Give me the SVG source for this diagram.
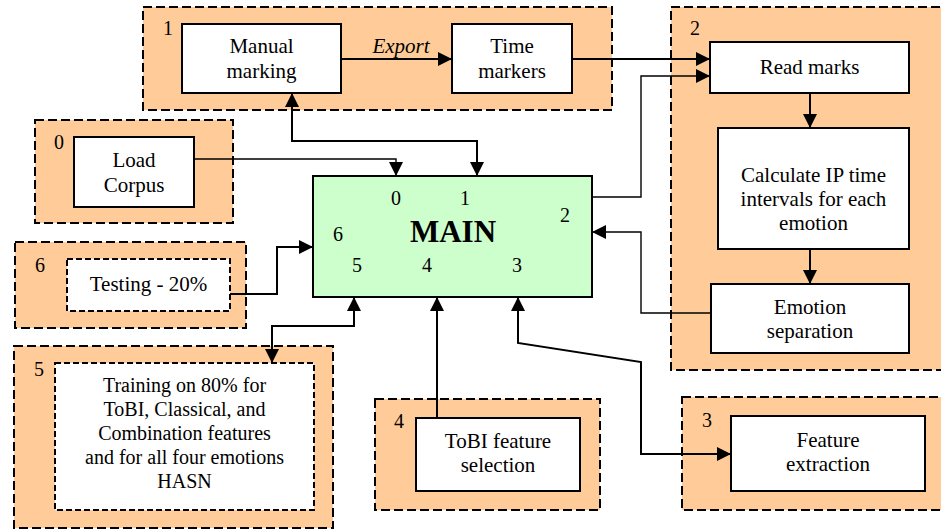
<svg xmlns="http://www.w3.org/2000/svg" width="941" height="529" viewBox="0 0 941 529" font-family="'Liberation Serif', 'Times New Roman', serif">
  <style>
    text { font-size: 21px; fill: #000; }
    .c { text-anchor: middle; }
    .num { font-size: 20px; }
    .small { font-size: 20px; }
    .grp { fill: #FFCC99; stroke: #000; stroke-width: 2; stroke-dasharray: 9 4; }
    .box { fill: #fff; stroke: #000; stroke-width: 2; }
    .dbox { fill: #fff; stroke: #000; stroke-width: 2; stroke-dasharray: 6 3; }
    .main { fill: #CCFFCC; stroke: #000; stroke-width: 2; }
    .thick { fill: none; stroke: #000; stroke-width: 2; }
    .thin { fill: none; stroke: #000; stroke-width: 1.4; }
    .ah { marker-end: url(#arrow); }
    .both { marker-start: url(#arrow); marker-end: url(#arrow); }
  </style>
  <defs>
    <marker id="arrow" markerUnits="userSpaceOnUse" markerWidth="14" markerHeight="14" refX="14" refY="7" orient="auto-start-reverse">
      <path d="M0,0 L14,7 L0,14 z" fill="#000"/>
    </marker>
  </defs>

  <!-- group 1: manual marking and export -->
  <g id="group1">
    <rect class="grp" x="143" y="7" width="469" height="103"/>
    <text class="num" x="163" y="35">1</text>
  </g>
  <!-- group 2: read marks, IP intervals, emotion separation -->
  <g id="group2">
    <rect class="grp" x="671" y="7" width="300" height="363"/>
    <text class="num" x="690" y="35">2</text>
  </g>
  <!-- group 0: corpus loading -->
  <g id="group0">
    <rect class="grp" x="35" y="120" width="198" height="103"/>
    <text class="num" x="54" y="149">0</text>
  </g>
  <!-- group 6: testing -->
  <g id="group6">
    <rect class="grp" x="15" y="242" width="231" height="86"/>
    <text class="num" x="35" y="272">6</text>
  </g>
  <!-- group 5: training -->
  <g id="group5">
    <rect class="grp" x="14" y="346" width="319" height="182"/>
    <text class="num" x="34" y="376">5</text>
  </g>
  <!-- group 4: ToBI feature selection -->
  <g id="group4">
    <rect class="grp" x="375" y="399" width="225" height="111"/>
    <text class="num" x="394" y="428">4</text>
  </g>
  <!-- group 3: feature extraction -->
  <g id="group3">
    <rect class="grp" x="682" y="397" width="300" height="113"/>
    <text class="num" x="702" y="427">3</text>
  </g>

  <g id="manual-marking">
    <rect class="box" x="182" y="24" width="159" height="69"/>
    <text class="c" x="261.5" y="53">Manual</text>
    <text class="c" x="261.5" y="78">marking</text>
  </g>
  <g id="time-markers">
    <rect class="box" x="452" y="24" width="120" height="69"/>
    <text class="c" x="512" y="53">Time</text>
    <text class="c" x="512" y="78">markers</text>
  </g>
  <g id="read-marks">
    <rect class="box" x="710" y="42" width="199" height="51"/>
    <text class="c" x="809.5" y="74">Read marks</text>
  </g>
  <g id="calc-ip">
    <rect class="box" x="718" y="128" width="191" height="121"/>
    <text class="c" x="813.5" y="182">Calculate IP time</text>
    <text class="c" x="813.5" y="206">intervals for each</text>
    <text class="c" x="813.5" y="230">emotion</text>
  </g>
  <g id="emotion-separation">
    <rect class="box" x="711" y="284" width="198" height="69"/>
    <text class="c" x="810" y="314">Emotion</text>
    <text class="c" x="810" y="338">separation</text>
  </g>
  <g id="load-corpus">
    <rect class="box" x="74" y="137" width="120" height="70"/>
    <text class="c" x="134" y="167">Load</text>
    <text class="c" x="134" y="192">Corpus</text>
  </g>
  <g id="testing">
    <rect class="dbox" x="67" y="259" width="163" height="52"/>
    <text class="c" x="148.5" y="291">Testing - 20%</text>
  </g>
  <g id="training">
    <rect class="dbox" x="55" y="363" width="259" height="147"/>
    <text class="c small" x="184.5" y="392">Training on 80% for</text>
    <text class="c small" x="184.5" y="416">ToBI, Classical, and</text>
    <text class="c small" x="184.5" y="440">Combination features</text>
    <text class="c small" x="184.5" y="464">and for all four emotions</text>
    <text class="c small" x="184.5" y="488">HASN</text>
  </g>
  <g id="tobi-selection">
    <rect class="box" x="416" y="418" width="164" height="73"/>
    <text class="c" x="498" y="448">ToBI feature</text>
    <text class="c" x="498" y="472">selection</text>
  </g>
  <g id="feature-extraction">
    <rect class="box" x="731" y="416" width="194" height="75"/>
    <text class="c" x="828" y="447">Feature</text>
    <text class="c" x="828" y="471">extraction</text>
  </g>
  <g id="main">
    <rect class="main" x="313" y="176" width="279" height="121"/>
    <text class="c" x="453" y="242" style="font-size:31px;font-weight:bold">MAIN</text>
    <text class="c num" x="396" y="205">0</text>
    <text class="c num" x="465" y="205">1</text>
    <text class="c num" x="565" y="222">2</text>
    <text class="c num" x="338" y="241">6</text>
    <text class="c num" x="357" y="272">5</text>
    <text class="c num" x="427" y="272">4</text>
    <text class="c num" x="517" y="272">3</text>
  </g>

  <g id="connectors">
    <path class="thick ah" d="M341,59 H452"/>
    <text class="c" x="401" y="53" style="font-style:italic">Export</text>
    <path class="thick ah" d="M572,59 H710"/>
    <path class="thin ah" d="M592,197 H641 V76 H710"/>
    <path class="thick ah" d="M810,93 V128"/>
    <path class="thick ah" d="M810,249 V284"/>
    <path class="thin ah" d="M711,313 H641 V232 H592"/>
    <path class="thin ah" d="M194,159 H396 V176"/>
    <path class="thick both" d="M292,93 V141 H477 V176"/>
    <path class="thick ah" d="M230,294 H277 V247 H313"/>
    <path class="thick both" d="M354,297 V326 H272 V363"/>
    <path class="thick ah" d="M437,418 V297"/>
    <path class="thick both" d="M518,297 V343 L641,362 V454 H731"/>
  </g>
</svg>
